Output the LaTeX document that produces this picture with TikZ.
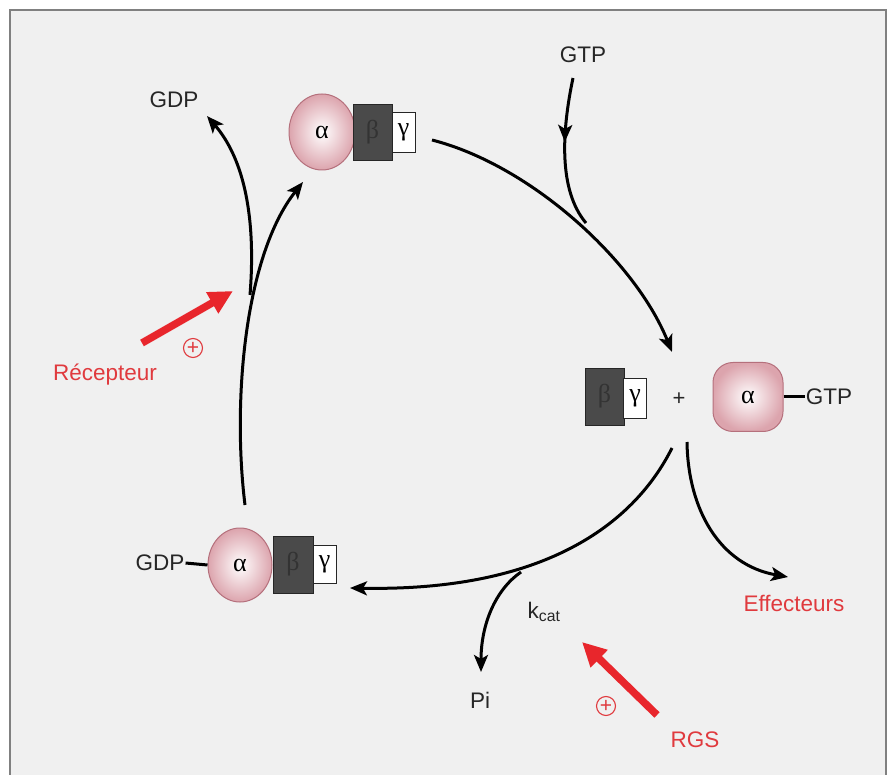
\documentclass[tikz,border=0pt]{standalone}
\usepackage{fontspec}
\setmainfont{Liberation Sans}
\newfontfamily\greekfont{Liberation Serif}
\usetikzlibrary{arrows.meta,decorations.markings,shapes.geometric}
\definecolor{bgc}{HTML}{F0F0F0}
\definecolor{framec}{HTML}{808080}
\definecolor{pinkout}{HTML}{DCA4AD}
\definecolor{pinkedge}{HTML}{B5707C}
\definecolor{betac}{HTML}{4A4A4A}
\definecolor{redc}{HTML}{E8262C}
\definecolor{redtxt}{HTML}{E03A3E}
\begin{document}
\begin{tikzpicture}[x=1pt,y=-1pt,
  greek/.style={font=\greekfont\fontsize{26}{26}\selectfont},
  alphacirc/.style={ellipse, draw=pinkedge, line width=1pt, inner color=white, outer color=pinkout, inner sep=0pt, greek},
  alphabox/.style={rectangle, rounded corners=20pt, draw=pinkedge, line width=1pt, inner color=white, outer color=pinkout, inner sep=0pt, minimum width=70pt, minimum height=69pt, greek},
  betabox/.style={rectangle, draw=black!85, fill=betac, line width=0.8pt, minimum width=39pt, minimum height=56pt, inner sep=0pt, text=black!80, greek},
  gammabox/.style={rectangle, draw=black!85, fill=white, line width=0.8pt, minimum width=23pt, minimum height=40pt, inner sep=0pt, greek},
  lbl/.style={font=\fontsize{22.5}{24}\selectfont, inner sep=1pt, text=black!85},
  redlbl/.style={font=\fontsize{22.5}{24}\selectfont, inner sep=1pt, text=redtxt},
  plusc/.style={circle, draw=redtxt, line width=1.1pt, minimum size=19pt, inner sep=0pt, text=redtxt, font=\fontsize{21}{21}\selectfont},
  flow/.style={line width=3pt, -{Stealth[length=17pt,width=14pt,inset=4pt]}},
  thinline/.style={line width=3pt},
  midarrow/.style={postaction={decorate}, decoration={markings, mark=at position 0.43 with {\arrow{Stealth[length=17pt,width=14pt,inset=4pt]}}}},
  redarrow/.style={draw=redc, line width=7.5pt, -{Triangle[length=24pt,width=23pt]}}
]
\useasboundingbox (0,0) rectangle (889,775);
\fill[white] (0,0) rectangle (889,775);
\fill[bgc] (10,10) rectangle (886,775);
\draw[framec, line width=1.5pt] (10,775) -- (10,10) -- (886,10) -- (886,775);

% top complex
\node[alphacirc, minimum width=66pt, minimum height=76pt] (a1) at (322,132) {α};
\node[betabox] (b1) at (372.5,132.5) {β};
\node[gammabox] (g1) at (403.5,132) {γ};

% right complex
\node[betabox, minimum height=57pt] (b2) at (604.5,396.5) {β};
\node[gammabox] (g2) at (635,398) {γ};
\node[font=\fontsize{22}{22}\selectfont, text=black!85] (plus) at (679,399) {+};
\node[alphabox] (a2) at (748,397) {α};
\node[lbl] (gtp2) at (829,397) {GTP};
\draw[line width=3pt] (a2.east) -- (gtp2.west);

% bottom complex
\node[alphacirc, minimum width=64pt, minimum height=74pt] (a3) at (240,565) {α};
\node[betabox, minimum height=57pt, minimum width=40pt] (b3) at (293,564.5) {β};
\node[gammabox, minimum height=38pt] (g3) at (324.5,564) {γ};
\node[lbl] (gdp3) at (160,563) {GDP};
\draw[line width=3pt] (gdp3.east) -- (a3.west);

% labels
\node[lbl] (gdp1) at (174,100) {GDP};
\node[lbl] (gtp1) at (583,55) {GTP};
\node[lbl] (pi) at (480,700) {Pi};
\node[lbl] (kcat) at (544,612) {k\textsubscript{cat}};
\node[redlbl] (rec) at (105,375) {Récepteur};
\node[redlbl] (eff) at (794,603) {Effecteurs};
\node[redlbl] (rgs) at (695,740) {RGS};
\node[plusc] (p1) at (193,348) {+};
\node[plusc] (p2) at (606,706) {+};

% coordinates
\coordinate (s1) at (432,140); \coordinate (e1) at (672,352);
\coordinate (s2) at (573,78);  \coordinate (m2) at (586,223);
\coordinate (s3) at (672,448); \coordinate (e3) at (350,588);
\coordinate (s4) at (521,572); \coordinate (e4) at (481,672);
\coordinate (s5) at (687,442); \coordinate (e5) at (788,577);
\coordinate (s6) at (245,505); \coordinate (e6) at (303,182);
\coordinate (s7) at (250,295); \coordinate (e7) at (207,116);
\coordinate (r1s) at (142,343); \coordinate (r1e) at (233,291);
\coordinate (r2s) at (657,715); \coordinate (r2e) at (582,642);

% connectors
\draw[flow] (s1) .. controls (530,165) and (635,260) .. (e1);
\draw[thinline, midarrow] (s2) .. controls (562,130) and (558,190) .. (m2);
\draw[flow] (s3) .. controls (640,512) and (560,592) .. (e3);
\draw[flow] (s4) .. controls (495,590) and (481,625) .. (e4);
\draw[flow] (s5) .. controls (688,510) and (720,565) .. (e5);
\draw[flow] (s6) .. controls (232,400) and (245,255) .. (e6);
\draw[flow] (s7) .. controls (256,220) and (245,160) .. (e7);
\draw[redarrow] (r1s) -- (r1e);
\draw[redarrow] (r2s) -- (r2e);
\end{tikzpicture}
\end{document}
